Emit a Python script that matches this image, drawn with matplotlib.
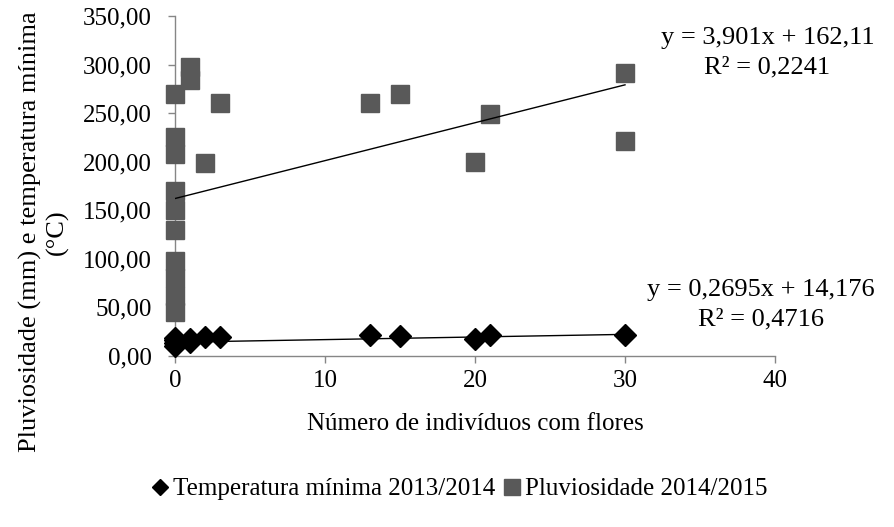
import matplotlib
matplotlib.use("Agg")
import matplotlib.pyplot as plt
from matplotlib.lines import Line2D
import numpy as np

# Data
temp_x = [0, 0, 0, 0, 1, 1, 2, 3, 13, 15, 20, 21, 30]
temp_y = [10, 13, 16, 19, 14, 17, 19.5, 20, 21.6, 21, 18, 21.4, 21.6]
rain_x = [0, 0, 0, 0, 0, 0, 0, 0, 0, 0, 1, 1, 2, 3, 13, 15, 20, 21, 30, 30]
rain_y = [270, 225, 208, 170, 150, 130, 98, 80, 62, 45, 297, 284, 199, 260, 260, 270, 200, 249, 291, 221]
temp_fit = (0.2695, 14.176)
rain_fit = (3.901, 162.11)
fit_x = [0, 30]
x_ticks = [0, 10, 20, 30, 40]
y_ticks = [0, 50, 100, 150, 200, 250, 300, 350]

plt.rcParams['font.family'] = ['Liberation Serif', 'DejaVu Serif']
FS = 18

W, H = 894, 527
fig = plt.figure(figsize=(W / 100, H / 100), dpi=100)
ax = fig.add_axes([175 / W, 1 - 356 / H, 600 / W, 340 / H])

rain_col = '#595959'
ax.plot(rain_x, rain_y, linestyle='none', marker='s', markersize=13,
        color=rain_col, markeredgecolor=rain_col, zorder=3, clip_on=False)
ax.plot(temp_x, temp_y, linestyle='none', marker='D', markersize=11.5,
        color='black', zorder=4, clip_on=False)

fx = np.array(fit_x, dtype=float)
ax.plot(fx, rain_fit[0] * fx + rain_fit[1], color='black', lw=1.0, zorder=5)
ax.plot(fx, temp_fit[0] * fx + temp_fit[1], color='black', lw=1.0, zorder=5)

ax.set_xlim(0, 40)
ax.set_ylim(0, 350)
ax.set_xticks(x_ticks)
ax.set_yticks(y_ticks)
ax.set_yticklabels([f"{v:.2f}".replace('.', ',') for v in y_ticks])
ax.tick_params(axis='both', labelsize=FS, color='#868686', length=5, width=1)
ax.tick_params(axis='x', pad=5)
ax.tick_params(axis='y', pad=12)
for s in ['top', 'right']:
    ax.spines[s].set_visible(False)
for s in ['left', 'bottom']:
    ax.spines[s].set_color('#868686')
    ax.spines[s].set_linewidth(1)

fig.text(475 / W, 1 - 424 / H, 'Número de indivíduos com flores',
         ha='center', va='center', fontsize=FS)
fig.text(44 / W, 1 - 232 / H, 'Pluviosidade (mm) e temperatura mínima\n(°C)',
         ha='center', va='center', rotation=90, fontsize=19, linespacing=1.25)

EQ = 19
fig.text(768 / W, 1 - 38 / H, 'y = 3,901x + 162,11', ha='center', va='center', fontsize=EQ)
fig.text(767 / W, 1 - 67 / H, 'R² = 0,2241', ha='center', va='center', fontsize=EQ)
fig.text(761 / W, 1 - 290 / H, 'y = 0,2695x + 14,176', ha='center', va='center', fontsize=EQ)
fig.text(761 / W, 1 - 319 / H, 'R² = 0,4716', ha='center', va='center', fontsize=EQ)

handles = [
    Line2D([], [], linestyle='none', marker='D', color='black', markersize=8),
    Line2D([], [], linestyle='none', marker='s', color=rain_col, markersize=11),
]
fig.legend(handles, ['Temperatura mínima 2013/2014', 'Pluviosidade 2014/2015'],
           loc='center', bbox_to_anchor=(460 / W, 1 - 489 / H), ncol=2,
           frameon=False, fontsize=FS, handlelength=0.6, handletextpad=0.2,
           columnspacing=0.4)

fig.savefig('out.png', dpi=100)
